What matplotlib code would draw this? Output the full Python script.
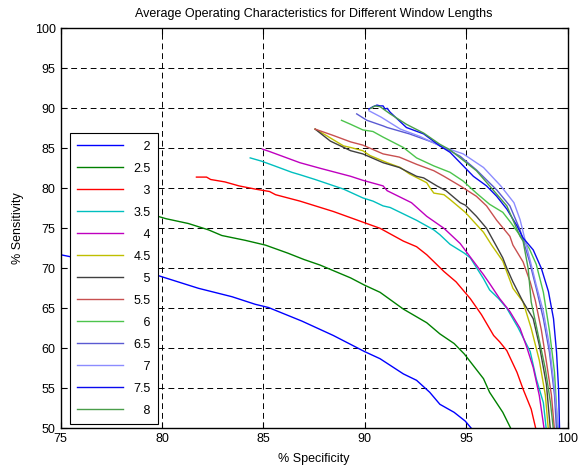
import matplotlib
matplotlib.use('Agg')
import matplotlib.pyplot as plt

plt.rcParams['font.family'] = ['Liberation Sans', 'DejaVu Sans']

window_lengths = [2, 2.5, 3, 3.5, 4, 4.5, 5, 5.5, 6, 6.5, 7, 7.5, 8]

spec_2 = [74.5, 75.0, 77.5, 79.8, 81.8, 83.45, 84.6, 85.25, 86.9, 88.45, 89.98, 90.75, 91.9, 92.55, 93.2, 93.7, 94.4, 94.95, 95.35]
sens_2 = [72.0, 71.7, 70.4, 69.1, 67.5, 66.45, 65.5, 65.1, 63.4, 61.6, 59.6, 58.7, 56.8, 56.0, 54.5, 53.0, 52.0, 50.9, 49.7]

spec_25 = [77.0, 79.8, 80.2, 81.3, 82.3, 82.95, 84.1, 85.1, 86.2, 87.0, 87.8, 89.3, 89.98, 90.75, 91.9, 93.05, 93.7, 94.4, 94.9, 95.85, 96.15, 96.8, 97.25]
sens_25 = [78.0, 76.5, 76.2, 75.6, 74.8, 74.1, 73.5, 72.9, 71.9, 71.1, 70.4, 68.8, 67.9, 67.0, 64.9, 63.2, 61.8, 60.6, 59.3, 56.2, 54.5, 52.0, 49.7]

spec_3 = [81.7, 82.2, 82.4, 83.1, 83.8, 84.6, 85.3, 85.6, 86.8, 88.45, 89.98, 90.75, 91.9, 92.55, 93.05, 93.9, 94.5, 94.9, 95.2, 95.75, 96.35, 96.65, 97.0, 97.5, 97.8, 98.2, 98.45]
sens_3 = [81.4, 81.4, 81.1, 80.8, 80.3, 79.9, 79.6, 79.2, 78.4, 77.1, 75.7, 75.0, 73.4, 72.7, 71.7, 69.6, 68.3, 67.1, 66.2, 64.2, 61.6, 60.8, 59.7, 57.0, 54.9, 52.4, 49.7]

spec_35 = [84.35, 84.9, 85.55, 86.4, 86.8, 87.55, 88.95, 89.9, 90.4, 90.9, 91.25, 92.55, 93.4, 93.7, 94.2, 94.9, 95.2, 95.85, 96.15, 96.6, 97.0, 97.55, 98.15, 98.45, 98.8, 98.95]
sens_35 = [83.8, 83.4, 82.8, 82.0, 81.7, 81.1, 79.9, 78.8, 78.4, 77.8, 77.6, 76.0, 74.8, 74.2, 73.0, 71.9, 71.3, 68.7, 67.3, 66.2, 65.0, 62.6, 59.6, 56.2, 53.2, 49.7]

spec_4 = [84.95, 85.3, 86.8, 87.8, 89.3, 89.9, 90.9, 91.1, 92.3, 93.05, 93.9, 94.7, 95.2, 95.85, 96.15, 96.65, 97.15, 97.65, 98.0, 98.3, 98.6, 98.85]
sens_4 = [84.9, 84.6, 83.2, 82.5, 81.5, 81.0, 80.3, 79.7, 78.2, 76.5, 75.0, 73.1, 71.4, 69.2, 68.1, 66.2, 64.6, 62.5, 60.0, 57.6, 54.1, 49.7]

spec_45 = [87.55, 88.1, 88.95, 89.3, 89.9, 90.25, 91.1, 91.75, 92.2, 93.05, 93.2, 93.4, 93.9, 94.2, 94.95, 95.85, 96.25, 96.8, 97.3, 97.8, 98.2, 98.6, 98.9, 99.05]
sens_45 = [87.4, 86.6, 85.3, 85.1, 84.7, 84.1, 83.2, 82.6, 81.8, 80.7, 80.1, 79.4, 79.2, 78.6, 77.0, 74.5, 72.9, 70.9, 67.5, 65.8, 62.5, 58.5, 54.1, 49.7]

spec_5 = [87.55, 88.3, 89.3, 89.9, 90.9, 91.7, 92.55, 92.9, 93.55, 94.0, 94.7, 94.95, 95.5, 96.0, 96.5, 96.8, 97.0, 97.3, 97.8, 98.3, 98.6, 98.95, 99.15]
sens_5 = [87.4, 85.9, 84.7, 84.3, 83.2, 82.6, 81.5, 81.3, 80.3, 79.7, 78.2, 77.9, 76.5, 75.0, 72.7, 71.3, 70.0, 68.3, 65.8, 63.7, 60.4, 55.5, 49.7]

spec_55 = [87.55, 88.45, 89.3, 89.9, 90.9, 91.7, 92.55, 93.4, 93.9, 94.7, 95.5, 96.0, 96.5, 97.15, 97.3, 97.8, 98.15, 98.4, 98.7, 98.95, 99.2, 99.35]
sens_55 = [87.4, 86.6, 85.8, 85.4, 84.3, 83.9, 83.0, 82.2, 81.5, 80.3, 79.0, 77.8, 76.0, 74.0, 72.9, 70.8, 68.3, 66.0, 62.3, 58.3, 54.1, 49.7]

spec_6 = [88.85, 89.3, 89.9, 90.4, 90.9, 91.9, 92.55, 93.4, 94.2, 94.85, 95.5, 96.15, 96.8, 97.2, 97.65, 98.1, 98.45, 98.8, 99.1, 99.35, 99.45, 99.5]
sens_6 = [88.5, 88.0, 87.3, 87.1, 86.4, 85.1, 83.8, 82.8, 82.0, 80.9, 79.4, 78.0, 77.0, 75.7, 74.1, 72.5, 70.5, 67.0, 62.2, 57.0, 52.5, 49.7]

spec_65 = [89.6, 90.1, 90.9, 91.1, 92.2, 93.4, 93.9, 94.7, 95.5, 96.5, 97.15, 97.65, 98.1, 98.45, 98.8, 99.1, 99.35, 99.45]
sens_65 = [89.3, 88.5, 87.8, 87.6, 86.8, 85.7, 85.1, 84.0, 82.3, 79.8, 77.8, 74.8, 71.0, 67.5, 63.7, 59.5, 54.1, 49.7]

spec_7 = [90.2, 90.8, 91.75, 92.7, 93.7, 94.85, 95.85, 96.7, 97.35, 97.65, 98.45, 98.8, 99.1, 99.35, 99.55]
sens_7 = [89.7, 88.9, 87.4, 86.5, 85.3, 84.3, 82.6, 80.3, 78.2, 76.1, 67.9, 64.6, 60.3, 54.9, 49.7]

spec_75 = [90.2, 90.4, 90.6, 90.75, 90.9, 91.0, 91.1, 91.25, 92.05, 92.9, 93.7, 94.2, 94.7, 95.35, 96.0, 96.5, 97.0, 97.5, 97.8, 98.3, 98.7, 99.05, 99.3, 99.45, 99.55, 99.6]
sens_75 = [89.9, 90.2, 90.4, 90.3, 90.3, 89.9, 90.0, 89.5, 87.6, 86.8, 85.3, 84.5, 83.2, 81.5, 80.3, 79.0, 77.4, 75.3, 73.8, 72.3, 70.0, 67.1, 63.7, 59.5, 54.9, 49.7]

spec_8 = [90.3, 90.5, 90.75, 91.25, 92.05, 92.9, 93.7, 94.2, 95.0, 95.5, 96.15, 97.0, 97.65, 97.8, 98.05, 98.2, 98.55, 98.9, 99.15, 99.3]
sens_8 = [90.0, 90.3, 90.2, 89.3, 88.0, 86.9, 85.5, 84.8, 83.2, 82.2, 80.3, 77.8, 74.0, 73.4, 70.0, 65.8, 61.6, 57.4, 53.2, 49.7]

specificity = [spec_2, spec_25, spec_3, spec_35, spec_4, spec_45, spec_5, spec_55, spec_6, spec_65, spec_7, spec_75, spec_8]
sensitivity = [sens_2, sens_25, sens_3, sens_35, sens_4, sens_45, sens_5, sens_55, sens_6, sens_65, sens_7, sens_75, sens_8]

cores = ['#0000ff', '#008000', '#ff0000', '#00bfbf', '#bf00bf', '#bfbf00', '#404040',
         '#c85050', '#4cc44c', '#5a5ad2', '#8c8cff', '#0a0aee', '#4a9e4a']

fig = plt.figure(figsize=(5.79, 4.70), dpi=100)
ax = fig.add_axes([0.1045, 0.0887, 0.876, 0.8511])

for w, xs, ys, c in zip(window_lengths, specificity, sensitivity, cores):
    # rotulos alinhados a direita como no original
    rotulo = f'{w:g}' if w % 1 else '\u2007\u2008' + f'{w:g}'
    ax.plot(xs, ys, color=c, lw=1.0, label=rotulo)

ax.set_xlim(75, 100)
ax.set_ylim(50, 100)
ax.set_xticks(range(75, 101, 5))
ax.set_yticks(range(50, 101, 5))
ax.grid(True, color='black', linestyle=(0, (6, 4)), linewidth=0.7)
ax.tick_params(direction='in', top=True, right=True, length=4, labelsize=9)
for s in ax.spines.values():
    s.set_linewidth(1.0)

ax.set_xlabel('% Specificity', fontsize=9, labelpad=5.5)
ax.set_ylabel('% Sensitivity', fontsize=9, labelpad=7.5)
ax.set_title('Average Operating Characteristics for Different Window Lengths', fontsize=9, pad=8)

leg = ax.legend(loc='lower left', bbox_to_anchor=(0.018, 0.01), borderaxespad=0, fontsize=9,
                fancybox=False, framealpha=1, edgecolor='black', labelspacing=0.8,
                handlelength=3.7, borderpad=0.6, handletextpad=0.8)
leg.get_frame().set_linewidth(0.8)

fig.savefig('out.png', dpi=100)
